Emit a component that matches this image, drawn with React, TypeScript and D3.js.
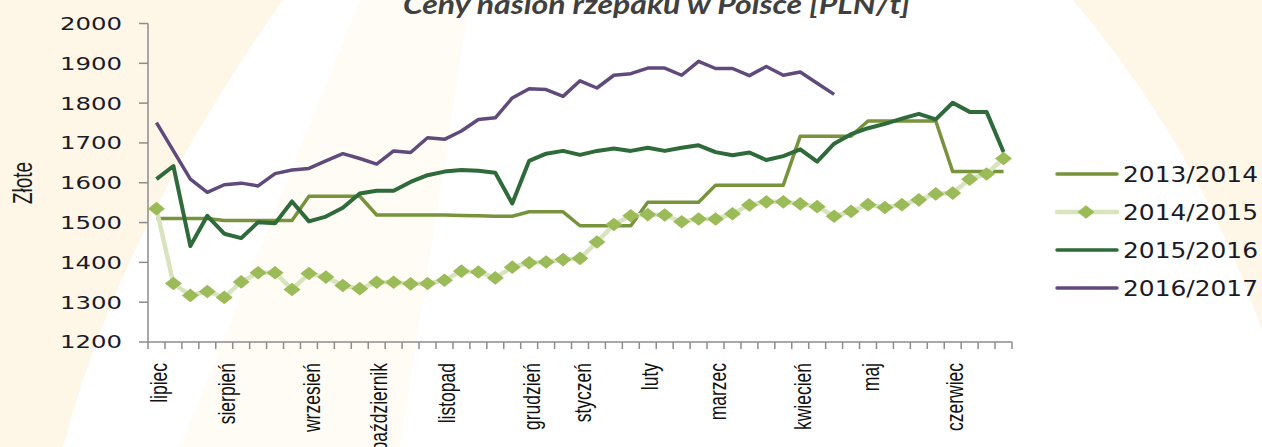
import React from "react";
import * as d3 from "d3";

// ---- data ----
const weeks: number[] = d3.range(51);
const monthLabels: string[] = ["lipiec", "sierpień", "wrzesień", "październik", "listopad", "grudzień", "styczeń", "luty", "marzec", "kwiecień", "maj", "czerwiec"];
const monthWeek: number[] = [0, 4, 9, 13, 17, 22, 25, 29, 33, 38, 42, 47];
const yTicks: number[] = [1200, 1300, 1400, 1500, 1600, 1700, 1800, 1900, 2000];
const seriesNames: string[] = ["2013/2014", "2014/2015", "2015/2016", "2016/2017"];

const s2013: (number | null)[] = [1510, 1510, 1510, 1510, 1505, 1505, 1505, 1505, 1505, 1566, 1566, 1566, 1566, 1519, 1519, 1519, 1519, 1519, 1518, 1517, 1516, 1516, 1527, 1527, 1527, 1492, 1492, 1492, 1492, 1551, 1551, 1551, 1551, 1594, 1594, 1594, 1594, 1594, 1717, 1717, 1717, 1717, 1755, 1755, 1755, 1755, 1755, 1628, 1628, 1628, 1628];
const s2014: (number | null)[] = [1535, 1347, 1317, 1327, 1312, 1351, 1374, 1374, 1332, 1372, 1363, 1342, 1334, 1350, 1350, 1346, 1347, 1355, 1378, 1376, 1361, 1388, 1399, 1401, 1407, 1410, 1451, 1495, 1517, 1520, 1519, 1502, 1509, 1509, 1522, 1544, 1552, 1552, 1547, 1540, 1516, 1528, 1545, 1538, 1545, 1557, 1572, 1574, 1609, 1622, 1661];
const s2015: (number | null)[] = [1609, 1642, 1441, 1517, 1472, 1461, 1501, 1498, 1553, 1503, 1515, 1537, 1573, 1580, 1580, 1602, 1619, 1628, 1632, 1630, 1625, 1548, 1655, 1673, 1680, 1670, 1680, 1686, 1680, 1688, 1680, 1688, 1694, 1677, 1669, 1676, 1657, 1667, 1684, 1653, 1698, 1722, 1737, 1748, 1761, 1773, 1759, 1801, 1778, 1778, 1677];
const s2016: (number | null)[] = [1751, 1680, 1609, 1576, 1595, 1599, 1592, 1623, 1632, 1636, 1655, 1673, 1661, 1647, 1680, 1676, 1713, 1709, 1730, 1759, 1763, 1813, 1836, 1834, 1817, 1856, 1838, 1870, 1874, 1888, 1888, 1870, 1905, 1887, 1887, 1869, 1892, 1870, 1878, 1850, 1822];

const W = 1262;
const H = 447;

export default function App() {
  const x = d3.scaleBand<number>().domain(weeks).range([148, 1012]).paddingInner(0).paddingOuter(0);
  const y = d3.scaleLinear().domain([1200, 2000]).range([342, 23.5]);
  const cx = (i: number) => (x(i) as number) + x.bandwidth() / 2;

  const line = d3
    .line<number | null>()
    .defined((d) => d !== null)
    .x((_, i) => cx(i))
    .y((d) => y(d as number));

  const tickXs = weeks.map((i) => x(i) as number).concat([x.range()[1]]);

  const diamond = (px: number, py: number) =>
    `M${px},${py - 6.8}L${px + 8.5},${py}L${px},${py + 6.8}L${px - 8.5},${py}Z`;

  const legendY = [174, 212, 250, 288];
  const colors = { c13: "#77933C", c14line: "#D7E4BD", c14mark: "#9BBB59", c15: "#2E6A3A", c16: "#604A7B" };

  return (
    <svg width={W} height={H} style={{ position: "absolute", left: 0, top: 0 }} xmlns="http://www.w3.org/2000/svg">
      {/* background */}
      <rect x={0} y={0} width={W} height={H} fill="#FFFFFF" />
      <path d="M360,0 L470,0 L400,447 L180,447 Z" fill="#FFFCF6" />
      <path d="M0,0 L283,0 Q120,230 63,447 L0,447 Z" fill="#FEF6E7" />
      <path d="M1073,0 L1262,0 L1262,330 Q1200,150 1073,0 Z" fill="#FEF6E7" />

      {/* title */}
      <text x={403} y={13.5} fontFamily="Lato, 'Open Sans', sans-serif" fontWeight="bold" fontStyle="italic" fontSize={26} fill="#404040" textLength={507} lengthAdjust="spacingAndGlyphs">
        Ceny nasion rzepaku w Polsce [PLN/t]
      </text>

      {/* y axis */}
      <line x1={148} x2={148} y1={y(2000)} y2={y(1200)} stroke="#8C8C8C" strokeWidth={1.5} />
      {yTicks.map((t) => (
        <g key={t}>
          <line x1={139} x2={148} y1={y(t)} y2={y(t)} stroke="#8C8C8C" strokeWidth={1.5} />
          <g transform={`translate(122,${y(t)}) scale(1.37,1)`}>
            <text textAnchor="end" dy="0.36em" fontFamily="'DejaVu Sans', Verdana, sans-serif" fontSize={17.8} fill="#1A1A2A">
              {t}
            </text>
          </g>
        </g>
      ))}
      <g transform={`translate(22,183) scale(1.5,1) rotate(-90)`}>
        <text textAnchor="middle" dy="0.35em" fontFamily="'Liberation Sans', Arial, sans-serif" fontSize={19} fill="#1A1A1A">
          Złote
        </text>
      </g>

      {/* x axis */}
      <line x1={148} x2={1012} y1={342} y2={342} stroke="#8C8C8C" strokeWidth={1.5} />
      {tickXs.map((tx, k) => (
        <line key={k} x1={tx} x2={tx} y1={342} y2={349} stroke="#8C8C8C" strokeWidth={1.5} />
      ))}
      {monthLabels.map((m, k) => (
        <g key={m} transform={`translate(${cx(monthWeek[k]) + 2.5},363) scale(1.33,1) rotate(-90)`}>
          <text textAnchor="end" dy="0.35em" fontFamily="'Liberation Sans', Arial, sans-serif" fontSize={17.5} fill="#111">
            {m}
          </text>
        </g>
      ))}

      {/* series */}
      <path d={line(s2013) || ""} fill="none" stroke={colors.c13} strokeWidth={3.5} strokeLinejoin="round" />
      <path d={line(s2014) || ""} fill="none" stroke={colors.c14line} strokeWidth={4.5} strokeLinejoin="round" />
      {s2014.map((v, i) => (v === null ? null : <path key={i} d={diamond(cx(i), y(v))} fill={colors.c14mark} />))}
      <path d={line(s2015) || ""} fill="none" stroke={colors.c15} strokeWidth={4} strokeLinejoin="round" />
      <path d={line(s2016) || ""} fill="none" stroke={colors.c16} strokeWidth={3.5} strokeLinejoin="round" />

      {/* legend */}
      {seriesNames.map((name, k) => {
        const ly = legendY[k];
        const col = k === 0 ? colors.c13 : k === 1 ? colors.c14line : k === 2 ? colors.c15 : colors.c16;
        return (
          <g key={name}>
            <line x1={1057} x2={1117} y1={ly} y2={ly} stroke={col} strokeWidth={k === 1 ? 4.5 : 3.5} strokeLinecap="round" />
            {k === 1 && <path d={diamond(1086, ly)} fill={colors.c14mark} />}
            <text x={1123} y={ly + 7.5} fontFamily="'DejaVu Sans', Verdana, sans-serif" fontSize={20.6} fill="#1A1A2A" textLength={135} lengthAdjust="spacingAndGlyphs">
              {name}
            </text>
          </g>
        );
      })}
    </svg>
  );
}
